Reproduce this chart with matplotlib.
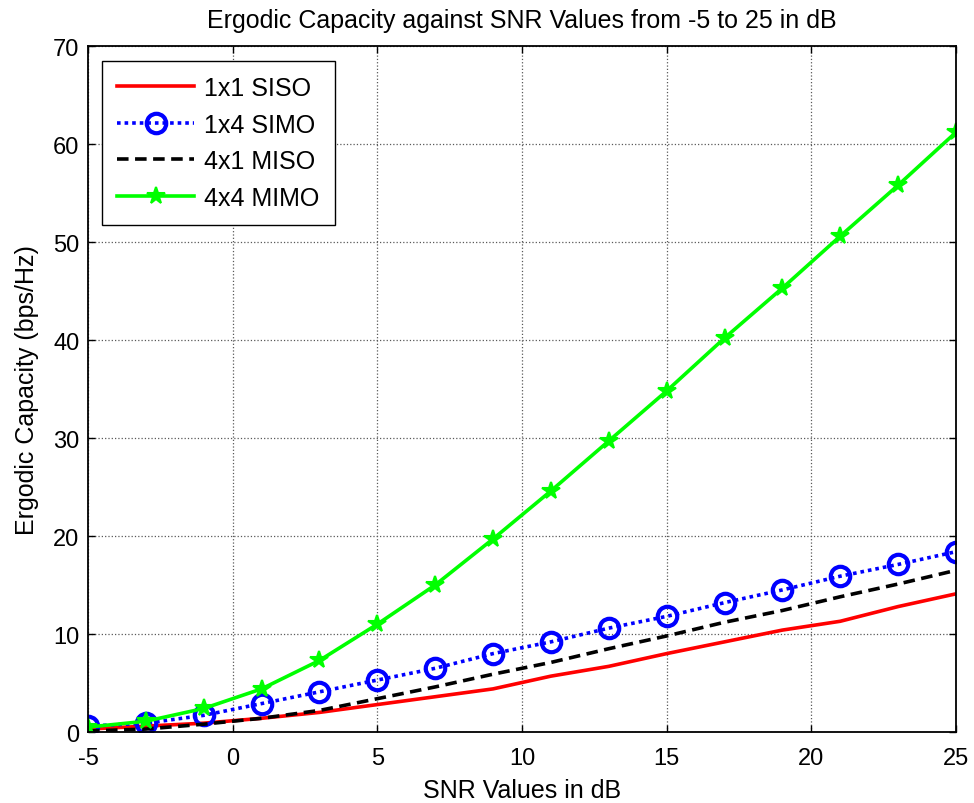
import matplotlib
matplotlib.use("Agg")
import matplotlib.pyplot as plt

plt.rcParams["font.family"] = ["Liberation Sans", "DejaVu Sans"]
plt.rcParams["axes.unicode_minus"] = False

snr_db = [-5, -3, -1, 1, 3, 5, 7, 9, 11, 13, 15, 17, 19, 21, 23, 25]
siso = [0.3, 0.6, 0.9, 1.4, 2.0, 2.8, 3.6, 4.4, 5.7, 6.7, 8.0, 9.2, 10.4, 11.3, 12.8, 14.1]
simo = [0.6, 0.9, 1.7, 2.9, 4.1, 5.3, 6.5, 8.0, 9.2, 10.6, 11.8, 13.2, 14.5, 15.9, 17.1, 18.4]
miso = [0.1, 0.3, 0.8, 1.4, 2.2, 3.4, 4.6, 5.9, 7.1, 8.5, 9.8, 11.2, 12.4, 13.8, 15.1, 16.5]
mimo = [0.5, 1.1, 2.4, 4.4, 7.3, 11.0, 15.0, 19.7, 24.6, 29.7, 34.8, 40.2, 45.3, 50.6, 55.8, 61.2]

x_ticks = [-5, 0, 5, 10, 15, 20, 25]
y_ticks = [0, 10, 20, 30, 40, 50, 60, 70]

fig = plt.figure(figsize=(9.74, 8.04), dpi=100)
ax = fig.add_axes([0.0903, 0.0883, 0.8912, 0.8532])

lw = 2.6
ax.plot(snr_db, siso, color="#ff0000", lw=lw, label="1x1 SISO")
ax.plot(snr_db, simo, color="#0000ff", lw=lw, ls=(0, (1, 1.1)), marker="o",
        ms=14, mew=3, mfc="none", label="1x4 SIMO")
ax.plot(snr_db, miso, color="black", lw=lw, ls=(0, (3.2, 1.8)), label="4x1 MISO")
ax.plot(snr_db, mimo, color="#00ff00", lw=lw, marker="*", ms=13, mew=1.5,
        label="4x4 MIMO")

ax.set_xlim(-5, 25)
ax.set_ylim(0, 70)
ax.set_xticks(x_ticks)
ax.set_yticks(y_ticks)
ax.grid(True, color="0.35", ls=":", lw=0.9)
ax.tick_params(direction="in", top=True, right=True, labelsize=17, length=5,
               width=1)
ax.tick_params(axis="x", pad=11)
ax.tick_params(axis="y", pad=6)
for s in ax.spines.values():
    s.set_linewidth(1.3)

ax.set_title("Ergodic Capacity against SNR Values from -5 to 25 in dB",
             fontsize=18, pad=14)
ax.set_xlabel("SNR Values in dB", fontsize=18, labelpad=6)
ax.set_ylabel("Ergodic Capacity (bps/Hz)", fontsize=18, labelpad=10)

leg = ax.legend(loc="upper left", bbox_to_anchor=(0.016, 0.978), borderaxespad=0,
                fontsize=18, fancybox=False, edgecolor="black", framealpha=1,
                handlelength=3.1, handletextpad=0.4, borderpad=0.6,
                labelspacing=0.5)
leg.get_frame().set_linewidth(1.0)

fig.savefig("out.png", dpi=100)
